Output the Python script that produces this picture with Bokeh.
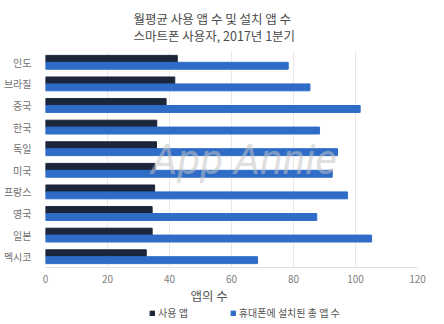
from bokeh.plotting import figure
from bokeh.layouts import column
from bokeh.models import ColumnDataSource, FactorRange, Range1d, Title, Legend, LegendItem, FixedTicker
from bokeh.transform import dodge
from bokeh.core.properties import value
from bokeh.embed import file_html
from bokeh.resources import INLINE

countries = ["인도", "브라질", "중국", "한국", "독일", "미국", "프랑스", "영국", "일본", "멕시코"]
apps_used = [42.5, 41.7, 38.9, 35.9, 35.8, 35.3, 35.2, 34.4, 34.4, 32.5]
apps_installed = [78.3, 85.3, 101.5, 88.4, 94.2, 92.5, 97.4, 87.5, 105.2, 68.4]
x_ticks = [0, 20, 40, 60, 80, 100, 120]
title_lines = ["월평균 사용 앱 수 및 설치 앱 수", "스마트폰 사용자, 2017년 1분기"]
x_label = "앱의 수"
series_names = ["사용 앱", "휴대폰에 설치된 총 앱 수"]
watermark = "App Annie"

FONT = "Noto Sans CJK KR"
DARK = "#1b263b"
BLUE = "#2e6cc7"

src = ColumnDataSource(dict(country=countries, used=apps_used, installed=apps_installed))

p = figure(width=444, height=306, output_backend="svg", toolbar_location=None,
           y_range=FactorRange(*reversed(countries)), x_range=Range1d(0, 120),
           min_border_left=42, min_border_right=27, min_border_top=51, min_border_bottom=38,
           outline_line_color=None, background_fill_color="white", border_fill_color="white")

r1 = p.hbar(y=dodge("country", 0.16, range=p.y_range), right="used", left=0, height=0.32,
            source=src, color=DARK)
r2 = p.hbar(y=dodge("country", -0.16, range=p.y_range), right="installed", left=0, height=0.32,
            source=src, color=BLUE)

wm_src = ColumnDataSource(dict(c=[countries[4]], x=[64], t=[watermark]))
p.text(x="x", y=dodge("c", -0.5, range=p.y_range), text="t", source=wm_src,
       text_font=value("Roboto"),
       text_font_size="42px", text_font_style="italic", text_color="#c4c4c4", text_alpha=0.55,
       text_align="center", text_baseline="middle")

p.xaxis.ticker = FixedTicker(ticks=x_ticks)
p.xaxis.axis_line_color = "#e0e0e0"
p.xaxis.major_tick_line_color = None
p.xaxis.minor_tick_line_color = None
p.xaxis.major_label_text_font = FONT
p.xaxis.major_label_text_font_size = "10px"
p.xaxis.major_label_text_color = "#808080"
p.xaxis.major_label_standoff = 1

p.yaxis.axis_line_color = None
p.yaxis.major_tick_line_color = None
p.yaxis.minor_tick_line_color = None
p.yaxis.major_label_text_font = FONT
p.yaxis.major_label_text_font_size = "10px"
p.yaxis.major_label_text_color = "#707070"
p.yaxis.major_label_standoff = 8

p.ygrid.grid_line_color = None
p.xgrid.grid_line_color = "#e8e8e8"

p.title.text = "\n".join(title_lines)
p.title.align = "left"
p.title.offset = 88
p.title.text_font = FONT
p.title.text_font_size = "12.5px"
p.title.text_font_style = "normal"
p.title.text_color = "#4a4a4a"
p.title.text_line_height = 0.9
p.title.standoff = 12

xl = Title(text=x_label, align="left", offset=145, text_font=FONT, text_font_size="12.5px",
           text_font_style="normal", text_color="#555555", standoff=0, vertical_align="top")
p.add_layout(xl, "below")

# legend strip below the chart
p2 = figure(width=444, height=18, output_backend="svg", toolbar_location=None,
            x_range=Range1d(0, 1), y_range=Range1d(0, 1), x_axis_type=None, y_axis_type=None,
            min_border=0, outline_line_color=None, background_fill_color="white",
            border_fill_color="white")
p2.grid.visible = False
e1 = p2.hbar(y=[-5], right=[0], left=[0], height=0.3, color=DARK)
e2 = p2.hbar(y=[-5], right=[0], left=[0], height=0.3, color=BLUE)
legend = Legend(items=[LegendItem(label=series_names[0], renderers=[e1]),
                       LegendItem(label=series_names[1], renderers=[e2])],
                orientation="horizontal", location=(104, 4), margin=0, padding=0,
                spacing=42, label_standoff=3, glyph_width=6, glyph_height=6,
                label_text_font=FONT, label_text_font_size="10px", label_text_color="#555555",
                border_line_color=None, background_fill_alpha=0)
p2.add_layout(legend, "center")

layout = column(p, p2, spacing=0)
open("out.html", "w").write(file_html(layout, INLINE))
